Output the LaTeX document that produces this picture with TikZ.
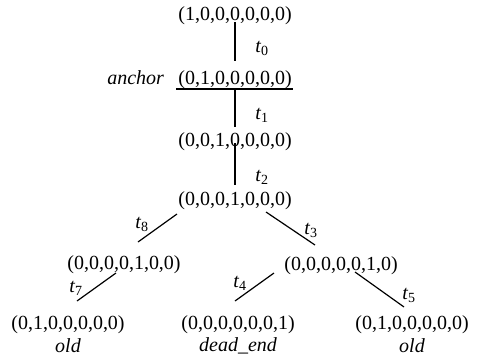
\documentclass[tikz,border=0pt]{standalone}
\usepackage{fontspec}
\setmainfont{Liberation Serif}
\usetikzlibrary{calc}
\begin{document}
\begin{tikzpicture}[x=1pt,y=-1pt,
  state/.style={inner sep=0pt,font=\fontsize{20}{24}\selectfont},
  note/.style={inner sep=0pt,font=\fontsize{20}{24}\selectfont\itshape},
  tlab/.style={inner sep=0pt,font=\fontsize{20}{24}\selectfont},
  edge/.style={line width=1.2pt}]
\useasboundingbox (0,0) rectangle (477,359);
% markings of the reachability tree
\node[state] (n1) at (235,15.5) {(1,0,0,0,0,0,0)};
\node[state] (n2) at (235,80)   {(0,1,0,0,0,0,0)};
\node[state] (n3) at (235,141.5){(0,0,1,0,0,0,0)};
\node[state] (n4) at (235,201)  {(0,0,0,1,0,0,0)};
\node[state] (n5) at (124,265)  {(0,0,0,0,1,0,0)};
\node[state] (n6) at (341,266)  {(0,0,0,0,0,1,0)};
\node[state] (n7) at (68,325)   {(0,1,0,0,0,0,0)};
\node[state] (n8) at (238,325)  {(0,0,0,0,0,0,1)};
\node[state] (n9) at (412,325)  {(0,1,0,0,0,0,0)};
% annotations
\node[note,anchor=base east] (anc) at ($(n2.base west)+(-14,0)$) {anchor};
\node[note] (o1) at (68,346)  {old};
\node[note] (de) at (238,346) {dead\textunderscore end};
\node[note] (o2) at (412,346) {old};
% transitions
\draw[edge] ($(n1)+(0,6.5)$) -- ($(n2)+(0,-19)$);
\draw[edge] ($(n2)+(-59,9)$) -- ($(n2)+(58,9)$);
\draw[edge] ($(n2)+(0,9)$) -- ($(n3)+(0,-14.5)$);
\draw[edge] ($(n3)+(0,1.5)$) -- ($(n4)+(0,-16)$);
\draw[edge] ($(n4)+(-58,13)$) -- ($(n5)+(14,-23)$);
\draw[edge] ($(n4)+(31,11)$) -- ($(n6)+(-26,-21)$);
\draw[edge] ($(n5)+(-8,8)$) -- ($(n7)+(9,-24)$);
\draw[edge] ($(n6)+(-67,7)$) -- ($(n8)+(-3,-24)$);
\draw[edge] ($(n6)+(14,6)$) -- ($(n9)+(-8,-18)$);
% transition labels
\node[tlab] (t0) at (262,48)  {\textit{t}\textsubscript{0}};
\node[tlab] (t1) at (262,115) {\textit{t}\textsubscript{1}};
\node[tlab] (t2) at (262,177) {\textit{t}\textsubscript{2}};
\node[tlab] (t8) at (142,224) {\textit{t}\textsubscript{8}};
\node[tlab] (t3) at (311,230) {\textit{t}\textsubscript{3}};
\node[tlab] (t7) at (76,288)  {\textit{t}\textsubscript{7}};
\node[tlab] (t4) at (240,283) {\textit{t}\textsubscript{4}};
\node[tlab] (t5) at (409,295) {\textit{t}\textsubscript{5}};
\end{tikzpicture}
\end{document}
